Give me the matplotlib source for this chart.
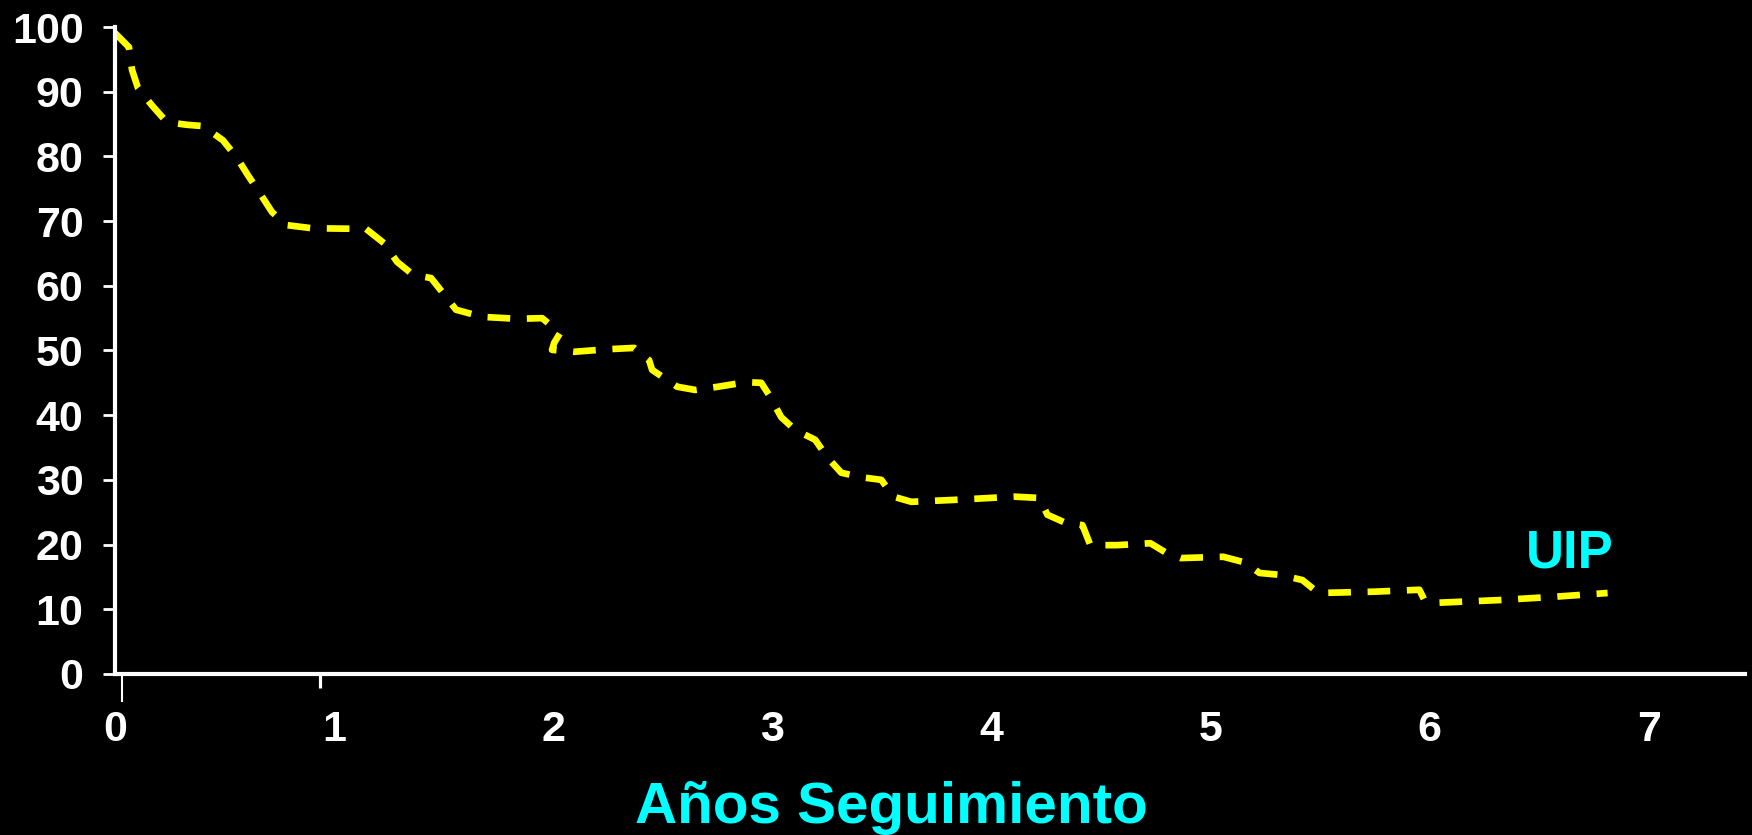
import matplotlib.pyplot as plt

# survival curve (UIP)
years = [0.000, 0.064, 0.078, 0.105, 0.169, 0.237, 0.329, 0.402, 0.493, 0.557,
         0.607, 0.658, 0.717, 0.781, 0.900, 1.146, 1.228, 1.288, 1.361, 1.443,
         1.511, 1.557, 1.676, 1.836, 1.950, 2.032, 2.005, 1.995, 2.096, 2.251,
         2.370, 2.438, 2.452, 2.566, 2.648, 2.753, 2.881, 2.950, 2.986, 3.041,
         3.105, 3.196, 3.251, 3.315, 3.406, 3.498, 3.553, 3.635, 3.831, 4.105,
         4.219, 4.256, 4.342, 4.416, 4.452, 4.575, 4.726, 4.799, 4.863, 5.059,
         5.160, 5.224, 5.320, 5.420, 5.493, 5.744, 5.954, 5.977, 6.041, 6.315,
         6.562, 6.813]
survival = [99.1, 96.9, 93.4, 90.6, 87.9, 85.3, 84.9, 84.7, 82.5, 79.8,
            77.1, 74.5, 71.4, 69.4, 68.9, 68.8, 66.6, 63.7, 61.7, 61.2,
            58.3, 56.3, 55.2, 54.9, 55.0, 52.7, 51.2, 50.1, 49.8, 50.2,
            50.4, 48.5, 47.0, 44.4, 43.9, 44.4, 45.1, 45.0, 43.1, 39.7,
            37.7, 36.2, 33.5, 31.1, 30.4, 30.0, 27.4, 26.6, 26.9, 27.4,
            27.2, 24.6, 23.3, 23.0, 19.9, 19.9, 20.2, 18.7, 17.9, 18.1,
            17.2, 15.6, 15.3, 14.5, 12.5, 12.7, 13.0, 11.4, 11.0, 11.4,
            11.9, 12.5]

x_ticks = [0, 1, 2, 3, 4, 5, 6, 7]
y_ticks = [0, 10, 20, 30, 40, 50, 60, 70, 80, 90, 100]
stray_marks = [0.0, 0.936]

plt.rcParams['font.family'] = ['Liberation Sans', 'DejaVu Sans']
plt.rcParams['font.weight'] = 'bold'

fig = plt.figure(figsize=(17.52, 8.35), dpi=100, facecolor='black')
ax = fig.add_axes([0.0656, 0.193, 0.9304, 0.7745])
ax.set_facecolor('black')

ax.plot(years, survival, color='#FFFF00', lw=4.8, dashes=(3.4, 2.5),
        dash_capstyle='butt', dash_joinstyle='round')

ax.set_xlim(0, 7.44)
ax.set_ylim(0, 100)

for side in ['top', 'right']:
    ax.spines[side].set_visible(False)
for side in ['left', 'bottom']:
    ax.spines[side].set_color('white')
    ax.spines[side].set_linewidth(3)

ax.set_yticks(y_ticks)
ax.set_yticklabels([str(v) for v in y_ticks])
ax.tick_params(axis='y', colors='white', length=8.6, width=2, pad=14,
               labelsize=31)

ax.set_xticks(x_ticks)
ax.set_xticklabels([str(v) for v in x_ticks])
ax.tick_params(axis='x', which='major', colors='white', length=0, pad=26,
               labelsize=31)
ax.set_xticks(stray_marks, minor=True)
ax.tick_params(axis='x', which='minor', colors='white', length=10, width=2.3,
               direction='out')

# odd long tick mark just right of zero
sec = ax.secondary_xaxis('bottom')
sec.spines['bottom'].set_visible(False)
sec.set_xticks([0.032])
sec.set_xticklabels([''])
sec.tick_params(colors='white', length=20, width=1.5)

ax.text(6.44, 16.4, 'UIP', color='#00FFFF', fontsize=38, fontweight='bold',
        ha='left', va='baseline')

fig.text(0.509, 0.0144, 'Años Seguimiento', color='#00FFFF', fontsize=42,
         fontweight='bold', ha='center', va='baseline')

fig.savefig('out.png', dpi=100, facecolor='black')
